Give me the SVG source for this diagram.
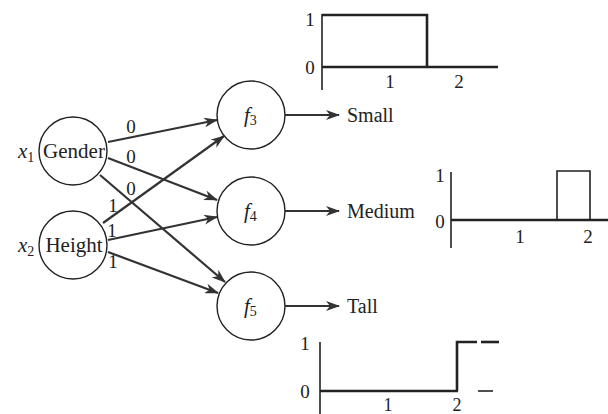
<svg xmlns="http://www.w3.org/2000/svg" width="608" height="414" viewBox="0 0 608 414">
<style>
.n{fill:#fff;stroke:#222;stroke-width:1.4}
.t{font-family:"Liberation Serif",serif;fill:#222}
.e{stroke:#333;stroke-width:2.2;fill:none}
.a{stroke:#222;stroke-width:2.6;fill:none}
.ax{stroke:#222;stroke-width:1.6;fill:none}
</style>
<defs>
<marker id="ar" markerUnits="userSpaceOnUse" markerWidth="14" markerHeight="10" refX="13" refY="5" orient="auto">
<path d="M0,0 L14,5 L0,10 L4,5 Z" fill="#333"/>
</marker>
</defs>
<g id="connectors">
<line class="e" x1="108" y1="142" x2="217" y2="120" marker-end="url(#ar)"/>
<line class="e" x1="108" y1="158" x2="217" y2="200" marker-end="url(#ar)"/>
<line class="e" x1="100" y1="175" x2="225" y2="282" marker-end="url(#ar)"/>
<line class="e" x1="103" y1="223" x2="224" y2="136" marker-end="url(#ar)"/>
<line class="e" x1="108" y1="240" x2="217" y2="217" marker-end="url(#ar)"/>
<line class="e" x1="108" y1="252" x2="218" y2="293" marker-end="url(#ar)"/>
<line class="e" x1="285" y1="115" x2="339" y2="115" marker-end="url(#ar)"/>
<line class="e" x1="285" y1="211" x2="339" y2="211" marker-end="url(#ar)"/>
<line class="e" x1="285" y1="306" x2="339" y2="306" marker-end="url(#ar)"/>
<text class="t" x="131" y="133" font-size="19" text-anchor="middle">0</text>
<text class="t" x="131" y="163" font-size="19" text-anchor="middle">0</text>
<text class="t" x="131" y="195" font-size="19" text-anchor="middle">0</text>
<text class="t" x="113" y="212" font-size="19" text-anchor="middle">1</text>
<text class="t" x="112" y="237" font-size="19" text-anchor="middle">1</text>
<text class="t" x="113" y="268" font-size="19" text-anchor="middle">1</text>
</g>
<g id="gender">
<circle class="n" cx="73" cy="151" r="34"/>
<text class="t" x="74" y="158" font-size="21" text-anchor="middle">Gender</text>
<text class="t" x="18" y="158" font-size="21" font-style="italic">x<tspan font-size="14" font-style="normal" dy="4">1</tspan></text>
</g>
<g id="height">
<circle class="n" cx="73" cy="245" r="34"/>
<text class="t" x="74" y="252" font-size="21" text-anchor="middle">Height</text>
<text class="t" x="18" y="252" font-size="21" font-style="italic">x<tspan font-size="14" font-style="normal" dy="4">2</tspan></text>
</g>
<g id="f3">
<circle class="n" cx="251" cy="115" r="34"/>
<text class="t" x="244" y="122" font-size="21" font-style="italic">f<tspan font-size="14" font-style="normal" dy="3">3</tspan></text>
</g>
<g id="f4">
<circle class="n" cx="251" cy="211" r="34"/>
<text class="t" x="244" y="218" font-size="21" font-style="italic">f<tspan font-size="14" font-style="normal" dy="3">4</tspan></text>
</g>
<g id="f5">
<circle class="n" cx="251" cy="306" r="34"/>
<text class="t" x="244" y="313" font-size="21" font-style="italic">f<tspan font-size="14" font-style="normal" dy="3">5</tspan></text>
</g>
<g id="outputs">
<text class="t" x="347" y="122" font-size="20">Small</text>
<text class="t" x="347" y="218" font-size="20">Medium</text>
<text class="t" x="347" y="313" font-size="20">Tall</text>
</g>
<g id="chart-small">
<line class="ax" x1="322" y1="14" x2="322" y2="90"/>
<polyline class="a" points="322,15 427,15 427,67"/>
<line class="a" x1="322" y1="67" x2="498" y2="67"/>
<text class="t" x="310" y="26" font-size="19" text-anchor="middle">1</text>
<text class="t" x="310" y="74" font-size="19" text-anchor="middle">0</text>
<text class="t" x="390" y="88" font-size="19" text-anchor="middle">1</text>
<text class="t" x="459" y="88" font-size="19" text-anchor="middle">2</text>
</g>
<g id="chart-medium">
<line class="ax" x1="451" y1="172" x2="451" y2="248"/>
<line class="a" x1="451" y1="220" x2="608" y2="220"/>
<polyline class="ax" points="557,220 557,171 590,171 590,220" stroke-width="2"/>
<text class="t" x="440" y="182" font-size="19" text-anchor="middle">1</text>
<text class="t" x="440" y="228" font-size="19" text-anchor="middle">0</text>
<text class="t" x="520" y="243" font-size="19" text-anchor="middle">1</text>
<text class="t" x="588" y="243" font-size="19" text-anchor="middle">2</text>
</g>
<g id="chart-tall">
<line class="ax" x1="320" y1="342" x2="320" y2="414"/>
<line class="a" x1="320" y1="391" x2="458" y2="391"/>
<line class="ax" x1="478" y1="391" x2="493" y2="391" stroke-width="1.2"/>
<polyline class="a" points="457,391 457,342 477,342"/>
<line class="a" x1="481" y1="342" x2="499" y2="342"/>
<text class="t" x="305" y="350" font-size="19" text-anchor="middle">1</text>
<text class="t" x="305" y="398" font-size="19" text-anchor="middle">0</text>
<text class="t" x="388" y="411" font-size="18" text-anchor="middle">1</text>
<text class="t" x="457" y="411" font-size="18" text-anchor="middle">2</text>
</g>
</svg>
